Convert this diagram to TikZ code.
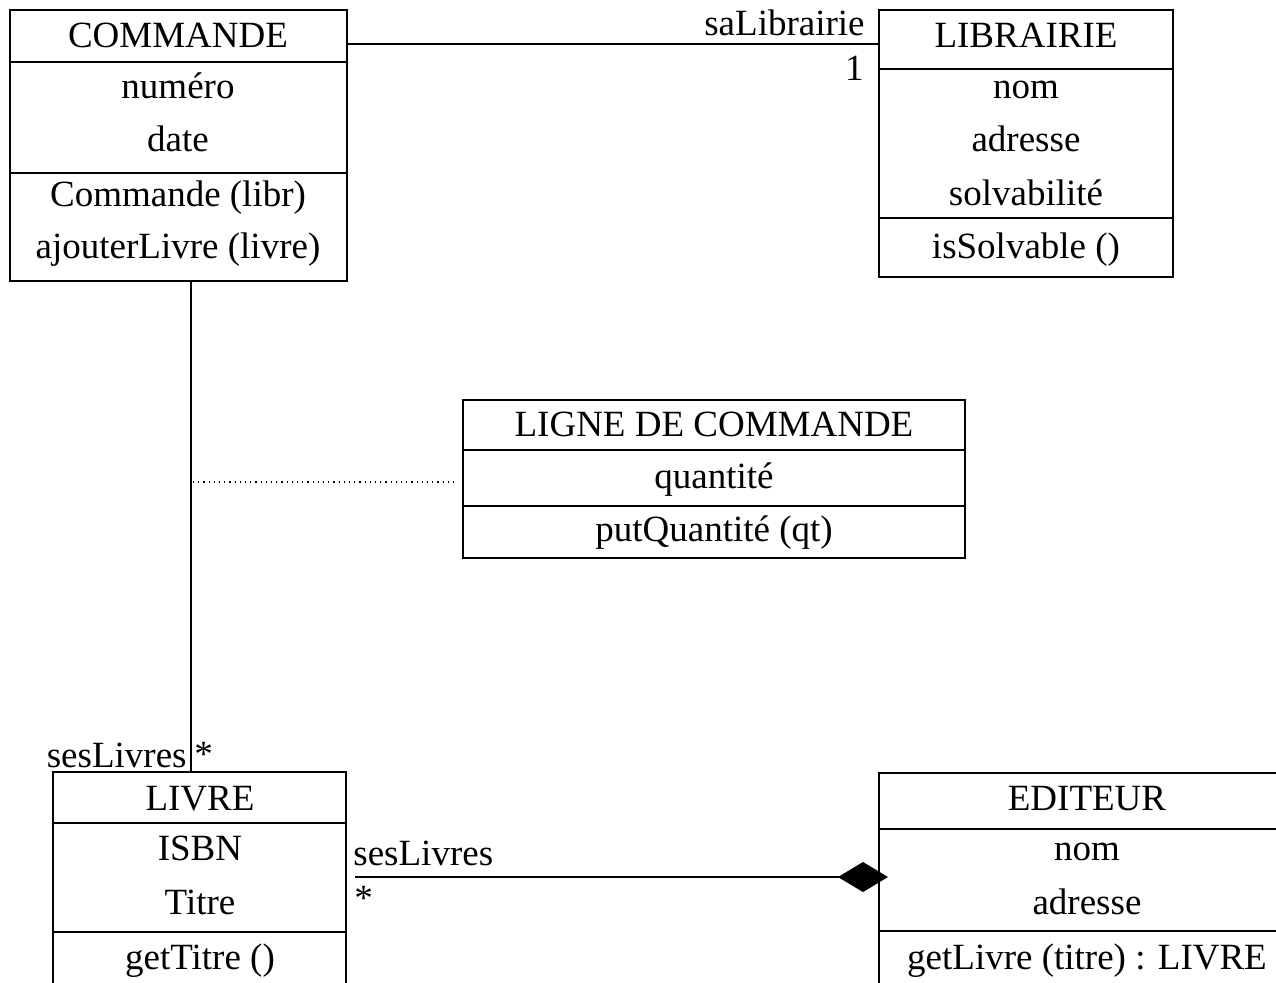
\documentclass[tikz,border=0pt]{standalone}
\usepackage{fontspec}
\setmainfont{Liberation Serif}
\usetikzlibrary{arrows.meta, calc}

\begin{document}
\begin{tikzpicture}[x=0.5pt, y=-0.5pt, font=\fontsize{18.5}{22}\selectfont]
    \tikzstyle{classbox} = [rectangle, draw, line width=1pt, inner sep=0pt, outer sep=0pt]
    \tikzstyle{member} = [anchor=base, inner sep=0pt]
    \tikzstyle{role} = [inner sep=0pt]
    \tikzstyle{sep} = [line width=1pt]
    \tikzstyle{link} = [line width=1pt]

    \useasboundingbox (0,0) rectangle (1276,982);
    \clip (0,0) rectangle (1276,982);

    % Class boxes
    \node [classbox, minimum width=168.5pt, minimum height=135.5pt] (commande) at (178.5,145.5) {};
    \node [classbox, minimum width=147pt, minimum height=133.5pt] (librairie) at (1026,143.5) {};
    \node [classbox, minimum width=251pt, minimum height=79pt] (ligne) at (714,479) {};
    \node [classbox, minimum width=146.5pt, minimum height=120pt] (livre) at (199.5,892) {};
    \node [classbox, minimum width=208pt, minimum height=120pt] (editeur) at (1087,893) {};

    % COMMANDE
    \node [member] (commande-name) at (178,47) {COMMANDE};
    \draw [sep] (commande.west |- 0,62) -- (commande.east |- 0,62);
    \node [member] (commande-num) at (178,98) {numéro};
    \node [member] (commande-date) at (178,151) {date};
    \draw [sep] (commande.west |- 0,173) -- (commande.east |- 0,173);
    \node [member] (commande-new) at (178,206) {Commande (libr)};
    \node [member] (commande-add) at (178,258) {ajouterLivre (livre)};

    % LIBRAIRIE
    \node [member] (librairie-name) at (1026,47) {LIBRAIRIE};
    \draw [sep] (librairie.west |- 0,69) -- (librairie.east |- 0,69);
    \node [member] (librairie-nom) at (1026,98) {nom};
    \node [member] (librairie-adr) at (1026,151) {adresse};
    \node [member] (librairie-solv) at (1026,205) {solvabilité};
    \draw [sep] (librairie.west |- 0,218) -- (librairie.east |- 0,218);
    \node [member] (librairie-is) at (1026,258) {isSolvable ()};

    % LIGNE DE COMMANDE
    \node [member] (ligne-name) at (714,436) {LIGNE DE COMMANDE};
    \draw [sep] (ligne.west |- 0,450) -- (ligne.east |- 0,450);
    \node [member] (ligne-qte) at (714,488) {quantité};
    \draw [sep] (ligne.west |- 0,506) -- (ligne.east |- 0,506);
    \node [member] (ligne-put) at (714,541) {putQuantité (qt)};

    % LIVRE
    \node [member] (livre-name) at (200,810) {LIVRE};
    \draw [sep] (livre.west |- 0,823) -- (livre.east |- 0,823);
    \node [member] (livre-isbn) at (200,860) {ISBN};
    \node [member] (livre-titre) at (200,914) {Titre};
    \draw [sep] (livre.west |- 0,932) -- (livre.east |- 0,932);
    \node [member] (livre-get) at (200,969) {getTitre ()};

    % EDITEUR
    \node [member] (editeur-name) at (1087,810) {EDITEUR};
    \draw [sep] (editeur.west |- 0,829) -- (editeur.east |- 0,829);
    \node [member] (editeur-nom) at (1087,860) {nom};
    \node [member] (editeur-adr) at (1087,914) {adresse};
    \draw [sep] (editeur.west |- 0,931) -- (editeur.east |- 0,931);
    \node [member] (editeur-get) at (1087,969) {getLivre (titre) : LIVRE};

    % Associations
    \draw [link] (commande.east |- 0,44) -- (librairie.west |- 0,44);
    \node [role, anchor=base east] (role-lib) at (865,35) {saLibrairie};
    \node [role, anchor=base east] (mult-lib) at (864,80) {1};

    \draw [link] (commande.south -| 191,0) -- (livre.north -| 191,0);
    \node [role, anchor=base east] (role-livres) at (187,767) {sesLivres};
    \node [role, anchor=base west] (mult-livres) at (194,766) {*};

    % Association class link
    \coordinate (lc) at (193,482);
    \draw [dotted, line width=0.6pt] (lc) -- ($(ligne.west |- lc)+(-7,0)$);

    % Composition
    \coordinate (bk) at (355,877);
    \draw [link, -{Diamond[length=25pt, width=15pt]}] (bk) -- ($(editeur.west |- bk)+(9,0)$);
    \node [role, anchor=base west] (role-edit) at (353,865) {sesLivres};
    \node [role, anchor=base west] (mult-edit) at (354,910) {*};
\end{tikzpicture}
\end{document}
